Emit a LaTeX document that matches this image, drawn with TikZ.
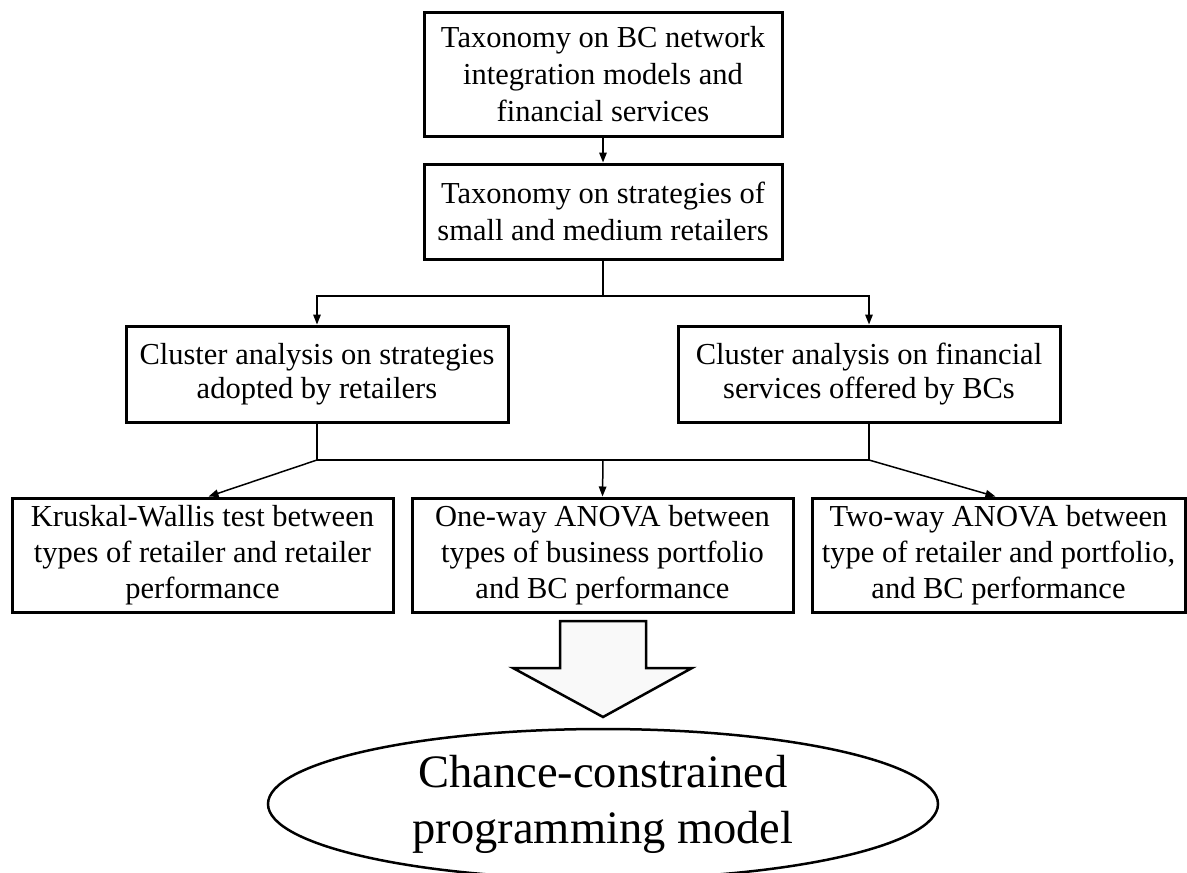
\documentclass[tikz,border=0pt]{standalone}
\usepackage{fontspec}
\setmainfont{Liberation Serif}
\usetikzlibrary{arrows.meta,shapes.geometric}
\begin{document}
\begin{tikzpicture}[x=1pt,y=-1pt,
  boxnode/.style={draw, line width=3pt, rectangle, inner sep=0pt, align=center,
    font=\fontsize{30.5}{36}\selectfont},
  conn/.style={line width=1.5pt},
  arr/.style={conn, -{Triangle[length=10pt,width=7.5pt]}},
]
\useasboundingbox (0,0) rectangle (1187,873);
\fill[white] (0,0) rectangle (1187,873);

\node[boxnode, minimum width=358pt, minimum height=124pt, font=\fontsize{30.5}{37}\selectfont] (b1) at (603,74)
  {Taxonomy on BC network\\integration models and\\financial services};
\node[boxnode, minimum width=358pt, minimum height=95pt, font=\fontsize{30.5}{37}\selectfont] (b2) at (603,211.5)
  {Taxonomy on strategies of\\small and medium retailers};
\node[boxnode, minimum width=382pt, minimum height=96pt, font=\fontsize{30.5}{34}\selectfont] (b3) at (317,374)
  {Cluster analysis on strategies\\adopted by retailers};
\node[boxnode, minimum width=382pt, minimum height=96pt, font=\fontsize{30.5}{34}\selectfont] (b4) at (869,374)
  {Cluster analysis on financial\\services offered by BCs};
\node[boxnode, minimum width=381pt, minimum height=114pt] (b5) at (202.5,555)
  {Kruskal-Wallis test between\\types of retailer and retailer\\performance};
\node[boxnode, minimum width=381pt, minimum height=114pt] (b6) at (602.5,555)
  {One-way ANOVA between\\types of business portfolio\\and BC performance};
\node[boxnode, minimum width=373pt, minimum height=114pt] (b7) at (998.5,555)
  {Two-way ANOVA between\\type of retailer and portfolio,\\and BC performance};

\node[draw, ellipse, line width=2.5pt, inner sep=0pt, minimum width=670pt, minimum height=150pt,
  align=center, font=\fontsize{46.5}{56}\selectfont] (e) at (603,804)
  {Chance-constrained\\programming model};

\coordinate (j1) at (603,296);
\coordinate (j2) at (317,460);
\coordinate (j3) at (869,460);
\coordinate (j4) at (603,460);

\draw[arr] (b1.south) -- (b2.north);
\draw[conn] (b2.south) -- (j1);
\draw[arr] (j1) -| (b3.north);
\draw[arr] (j1) -| (b4.north);
\draw[conn] (b3.south) -- (j2) -- (j3) -- (b4.south);
\draw[arr] (j2) -- ([xshift=6pt]b5.north);
\draw[arr] (j4) -- (b6.north);
\draw[arr] (j3) -- ([xshift=-3pt]b7.north);

\draw[line width=2.5pt, line join=miter, fill=gray!5]
  (560,621) -- (646,621) -- (646,668) -- (692,668) -- (603,717) -- (513,668) -- (560,668) -- cycle;
\end{tikzpicture}
\end{document}
